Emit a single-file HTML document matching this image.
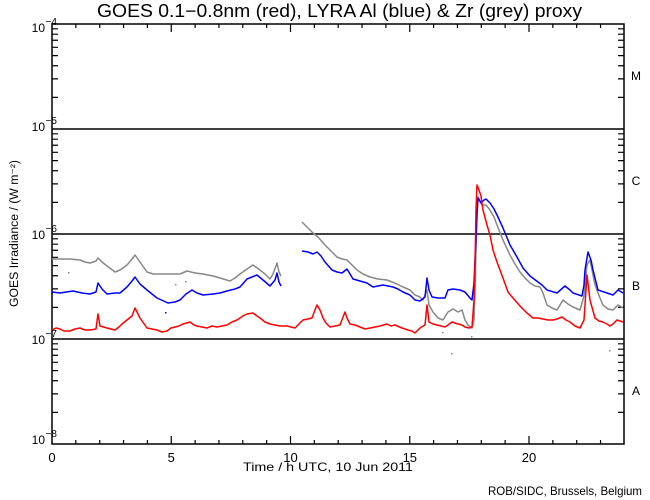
<!DOCTYPE html>
<html><head><meta charset="utf-8"><style>
html,body{margin:0;padding:0;background:#fff;}
svg{display:block;}
text{font-family:"Liberation Sans",sans-serif;fill:#000;}
</style></head><body>
<svg width="650" height="500" viewBox="0 0 650 500" xmlns="http://www.w3.org/2000/svg">
<rect width="650" height="500" fill="#fff"/>
<text x="339.5" y="17" font-size="18" text-anchor="middle" textLength="485" lengthAdjust="spacingAndGlyphs">GOES 0.1−0.8nm (red), LYRA Al (blue) &amp; Zr (grey) proxy</text>

<g stroke="#000" stroke-width="1.5" fill="none">
<rect x="52" y="24" width="572" height="420"/>
<line x1="52" y1="129" x2="624" y2="129"/>
<line x1="52" y1="234" x2="624" y2="234"/>
<line x1="52" y1="339" x2="624" y2="339"/>
</g>
<g stroke="#000" stroke-width="1.2" fill="none">
<path d="M75.85 444v-4M99.7 444v-4M123.55 444v-4M147.4 444v-4M171.25 444v-8M195.1 444v-4M218.95 444v-4M242.8 444v-4M266.65 444v-4M290.5 444v-8M314.35 444v-4M338.2 444v-4M362.05 444v-4M385.9 444v-4M409.75 444v-8M433.6 444v-4M457.45 444v-4M481.3 444v-4M505.15 444v-4M529 444v-8M552.85 444v-4M576.7 444v-4M600.55 444v-4"/>
<path d="M75.85 24v4M99.7 24v4M123.55 24v4M147.4 24v4M171.25 24v8M195.1 24v4M218.95 24v4M242.8 24v4M266.65 24v4M290.5 24v8M314.35 24v4M338.2 24v4M362.05 24v4M385.9 24v4M409.75 24v8M433.6 24v4M457.45 24v4M481.3 24v4M505.15 24v4M529 24v8M552.85 24v4M576.7 24v4M600.55 24v4"/>
<path d="M52 412.39h6M52 393.9h6M52 380.78h6M52 370.61h6M52 362.3h6M52 355.26h6M52 349.18h6M52 343.8h6M52 307.39h6M52 288.9h6M52 275.78h6M52 265.61h6M52 257.3h6M52 250.26h6M52 244.18h6M52 238.8h6M52 202.39h6M52 183.9h6M52 170.78h6M52 160.61h6M52 152.3h6M52 145.26h6M52 139.18h6M52 133.8h6M52 97.39h6M52 78.9h6M52 65.78h6M52 55.61h6M52 47.3h6M52 40.26h6M52 34.18h6M52 28.8h6"/>
<path d="M624 412.39h-6M624 393.9h-6M624 380.78h-6M624 370.61h-6M624 362.3h-6M624 355.26h-6M624 349.18h-6M624 343.8h-6M624 307.39h-6M624 288.9h-6M624 275.78h-6M624 265.61h-6M624 257.3h-6M624 250.26h-6M624 244.18h-6M624 238.8h-6M624 202.39h-6M624 183.9h-6M624 170.78h-6M624 160.61h-6M624 152.3h-6M624 145.26h-6M624 139.18h-6M624 133.8h-6M624 97.39h-6M624 78.9h-6M624 65.78h-6M624 55.61h-6M624 47.3h-6M624 40.26h-6M624 34.18h-6M624 28.8h-6"/>
</g>

<g fill="none" stroke-width="1.5" stroke-linejoin="round">
<polyline stroke="#888" points="52,259 60,259 70,259 80,260 85,262 90,263 96,261 98,258 102,262 107,266 115,272 120,270 127,265 132,259 135,255 140,262 147,272 153,274 160,274 170,274 180,274 187,271 195,273 203,274 213,276 220,278 230,281 235,278 240,274 247,269 253,265 260,270 265,274 270,279 273,274 277,263 279,272 281,276"/>
<polyline stroke="#888" points="302,222 306,226 310,230 313,233 318,237 325,245 330,250 337,257 342,259 347,260 352,265 357,270 363,274 370,277 378,279 387,280 392,282 397,284 403,287 410,290 415,295 420,297 423,300 427,290 429,305 433,312 438,318 443,320 448,312 453,309 458,312 462,310 465,320 468,325 472,328 474,320 475,290 476,250 477,212 478,197 482,205 486,205 490,210 494,217 497,225 503,240 510,255 515,264 520,272 525,278 530,283 535,286 540,287 543,293 547,305 552,308 557,310 563,300 568,304 573,307 580,310 584,296 587,265 590,260 592,270 595,285 600,298 603,305 608,309 613,310 618,305 623,308"/>
<polyline stroke="#0000ff" points="52,292 60,293 73,291 82,293 90,294 96,292 98,283 102,289 107,294 115,293 120,293 127,287 132,281 135,277 140,284 147,290 157,298 168,303 175,302 180,300 186,294 192,290 197,293 203,295 213,294 220,293 227,291 235,289 240,287 247,279 257,275 263,280 270,286 275,280 277,273 279,282 281,286"/>
<polyline stroke="#0000ff" points="302,251 308,252 313,254 317,252 321,256 325,262 332,270 337,272 342,273 347,269 350,274 353,279 360,281 367,283 373,287 378,286 383,285 388,286 393,287 398,289 403,292 410,295 415,300 420,301 425,297 427,278 429,290 432,297 438,298 445,298 448,290 453,289 460,290 465,292 470,298 472,300 474,283 475,260 476,240 477,215 478,198 481,203 484,200 486,199 490,203 494,209 497,215 503,228 510,245 517,257 523,268 530,276 538,282 542,285 547,290 557,293 565,286 570,290 573,293 582,296 584,285 585,270 588,252 591,260 593,270 598,290 607,293 613,295 618,290 623,293"/>
<polyline stroke="#ff0000" points="52,330 56,328 60,329 64,331 70,331 75,329 80,328 85,330 90,330 96,329 98,314 100,326 107,328 111,329 115,330 119,327 122,324 127,320 132,316 135,308 140,318 147,328 152,329 157,330 162,332 167,331 171,328 175,327 179,326 183,324 190,322 194,325 197,326 202,327 207,328 212,326 217,327 222,326 227,325 232,322 237,320 243,316 247,314 253,313 257,316 260,318 265,322 270,324 275,325 280,326 287,326 291,327 295,328 299,324 303,320 308,319 312,318 315,310 317,305 320,310 323,318 326,323 330,327 335,326 340,325 345,312 347,318 350,324 355,325 360,327 365,329 370,328 375,327 380,326 387,324 391,326 395,325 402,328 408,330 412,331 415,333 420,328 425,325 427,305 429,322 433,324 437,325 441,326 445,327 448,325 452,322 458,324 462,325 465,327 469,328 472,327 474,300 475,265 476,210 477,185 479,190 481,196 483,210 487,225 490,235 493,250 497,262 500,270 503,278 508,292 513,298 520,306 527,313 533,318 538,318 543,319 548,320 553,320 557,319 562,317 566,320 570,322 575,326 580,328 584,320 587,275 590,300 595,318 599,321 603,322 607,324 610,326 613,324 617,320 620,321 623,322"/>
</g>
<g fill="#888">
<rect x="451" y="353" width="1.5" height="1.5"/><rect x="609" y="350" width="1.5" height="1.5"/>
<rect x="442" y="332" width="1.5" height="1.5"/><rect x="471" y="336" width="1.5" height="1.5"/>
<rect x="68" y="272" width="1.5" height="1.5"/><rect x="175" y="284" width="1.5" height="1.5"/>
<rect x="185" y="281" width="1.5" height="1.5"/>
</g>
<rect x="165" y="312" width="1.5" height="1.5" fill="#0000ff"/>

<g font-size="12" text-anchor="end">
<text x="45" y="32">10</text><text x="45" y="131">10</text><text x="45" y="239">10</text><text x="45" y="344">10</text><text x="45" y="444">10</text>
</g>
<g font-size="10" text-anchor="start">
<text x="45.5" y="25">−4</text><text x="45.5" y="124">−5</text><text x="45.5" y="232">−6</text><text x="45.5" y="337">−7</text><text x="45.5" y="437">−8</text>
</g>
<g font-size="13" text-anchor="middle">
<text x="52" y="462">0</text><text x="171.3" y="462">5</text><text x="290.5" y="462">10</text><text x="409.8" y="462">15</text><text x="529" y="462">20</text>
</g>
<text x="243" y="471" font-size="12" textLength="170" lengthAdjust="spacingAndGlyphs">Time / h UTC, 10 Jun 2011</text>
<text x="488" y="495" font-size="12" textLength="154" lengthAdjust="spacingAndGlyphs">ROB/SIDC, Brussels, Belgium</text>
<text transform="translate(18,233.5) rotate(-90)" font-size="11.5" text-anchor="middle" textLength="147" lengthAdjust="spacingAndGlyphs">GOES Irradiance / (W m⁻²)</text>
<g font-size="12" text-anchor="middle">
<text x="636" y="80">M</text><text x="636" y="185">C</text><text x="636" y="290">B</text><text x="636" y="395">A</text>
</g>
</svg>
</body></html>
